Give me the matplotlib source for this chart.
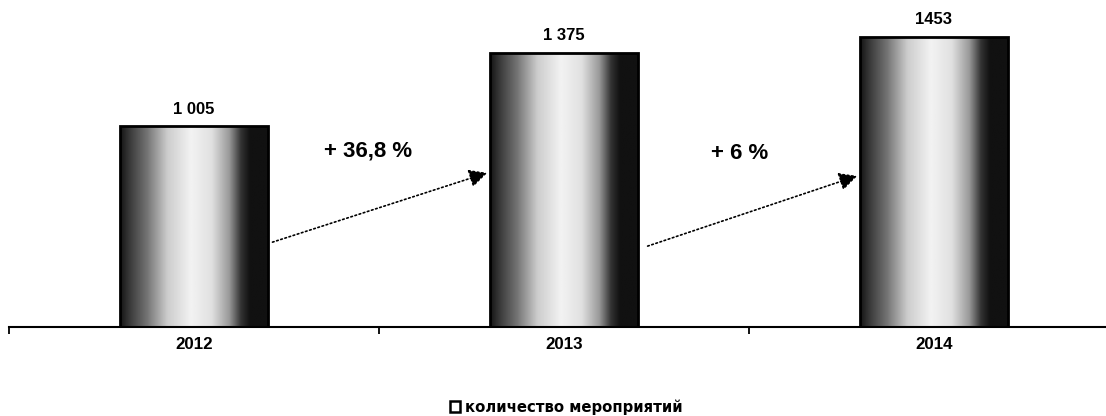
import numpy as np
import matplotlib
matplotlib.use("Agg")
import matplotlib.pyplot as plt
from matplotlib.patches import Rectangle

# ---- data ----
years = ["2012", "2013", "2014"]
counts = [1005, 1375, 1453]
value_labels = ["1 005", "1 375", "1453"]
growth_labels = ["+ 36,8 %", "+ 6 %"]
legend_label = "количество мероприятий"

plt.rcParams['font.family'] = ['Liberation Sans', 'DejaVu Sans']

W, H = 1106, 416
fig = plt.figure(figsize=(W / 100, H / 100), dpi=100)
ax = fig.add_axes([9 / W, (H - 327) / H, (W - 9) / W, 327 / H])
ax.set_xlim(-0.5, 2.465)
ax.set_ylim(0, 1639)

x = np.arange(len(years))
bw = 0.4

# gradient texture for bars
prof_x = [0.0, 0.06, 0.18, 0.32, 0.48, 0.62, 0.74, 0.82, 0.88, 1.0]
prof_v = [0.08, 0.22, 0.45, 0.8, 0.95, 0.88, 0.6, 0.2, 0.07, 0.07]
cols = np.interp(np.linspace(0, 1, 200), prof_x, prof_v)
grad = np.tile(cols, (2, 1))

bars = ax.bar(x, counts, width=bw, facecolor='none', edgecolor='black',
              linewidth=2, zorder=3)
for b in bars:
    x0, y0 = b.get_x(), b.get_y()
    w, h = b.get_width(), b.get_height()
    im = ax.imshow(grad, cmap='gray', vmin=0, vmax=1, aspect='auto',
                   extent=[x0, x0 + w, y0, y0 + h], zorder=2,
                   interpolation='bilinear')
    clip = Rectangle((x0, y0), w, h, transform=ax.transData)
    im.set_clip_path(clip)

for xi, c, lab in zip(x, counts, value_labels):
    ax.annotate(lab, (xi, c), xytext=(0, 7), textcoords='offset points',
                ha='center', va='bottom', fontsize=12, fontweight='bold')

# growth arrows (annotation placement)
arrow_starts = [(0.205, 421), (1.219, 401)]
arrow_ends = [(0.80, 777), (1.80, 762)]
text_pos = [(0.47, 882), (1.476, 872)]
for s, e, t, lab in zip(arrow_starts, arrow_ends, text_pos, growth_labels):
    ax.annotate("", xy=e, xytext=s,
                arrowprops=dict(arrowstyle="-|>,head_length=1.1,head_width=0.55",
                                linestyle=(0, (1, 1.6)), color='black', lw=1.2),
                zorder=4)
    ax.text(t[0], t[1], lab, ha='center', va='center', fontsize=16,
            fontweight='bold')

# axes styling
for sp in ['top', 'right', 'left']:
    ax.spines[sp].set_visible(False)
ax.spines['bottom'].set_linewidth(1.5)
ax.set_yticks([])
ax.set_xticks(x)
ax.set_xticklabels(years, fontsize=12.2, fontweight='bold')
ax.tick_params(axis='x', length=0, pad=7)
ax.set_xticks([-0.5, 0.5, 1.5], minor=True)
ax.tick_params(axis='x', which='minor', length=5, width=1.3, direction='out')

handle = Rectangle((0, 0), 1, 1, facecolor='white', edgecolor='black', lw=1.8)
fig.legend([handle], [legend_label], loc='center', bbox_to_anchor=(0.512, 0.022),
           frameon=False, prop=dict(family='DejaVu Sans', weight='bold', size=10.7),
           handlelength=0.7, handleheight=0.7, handletextpad=0.3,
           borderpad=0, borderaxespad=0)

fig.savefig("out.png", dpi=100)
